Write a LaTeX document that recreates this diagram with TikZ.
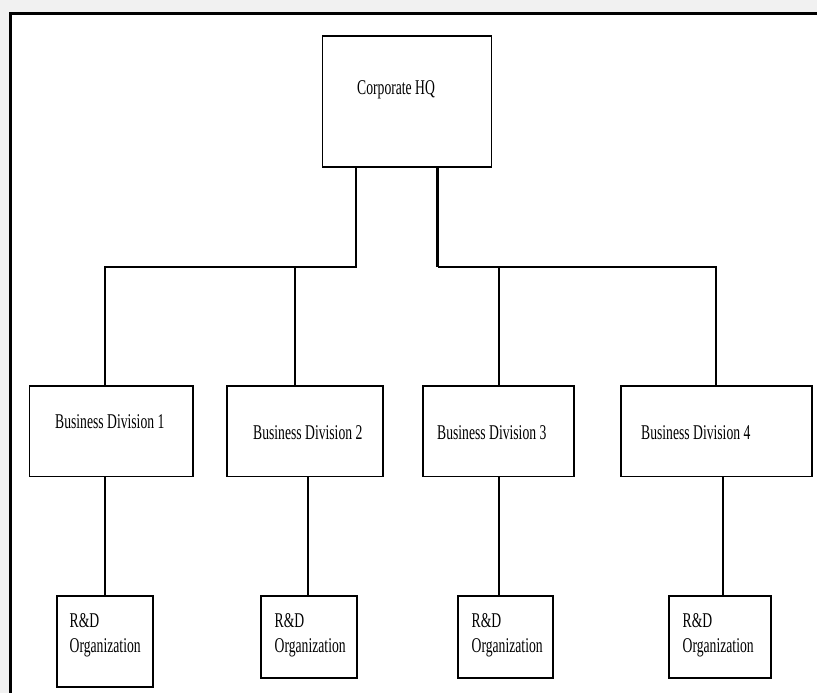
\documentclass[tikz,border=0pt]{standalone}
\usepackage{fontspec}
% Condensed Times-like face for all labels
\newfontfamily\orgfont[FakeStretch=0.65]{Liberation Serif}
\definecolor{pagebg}{HTML}{F1F1F1}
\begin{document}
\begin{tikzpicture}[x=1pt,y=-1pt,
  box/.style={draw=black, line width=1.9pt, fill=white, inner sep=0pt},
  lbl/.style={anchor=base west, inner sep=0pt, text=black, align=left,
              font=\orgfont\fontsize{21}{24.5}\selectfont},
  link/.style={line width=1.8pt},
  heavylink/.style={line width=2.6pt}
]
\useasboundingbox (0,0) rectangle (817,693);
% page background and framed sheet
\fill[pagebg] (0,0) rectangle (817,693);
\fill[white] (9,12) rectangle (817,693);
\draw[line width=3pt] (10.5,693) -- (10.5,13.5) -- (817,13.5);

% boxes
\node[box, minimum width=169pt, minimum height=130.5pt] (hq)  at (407,101.5) {};
\node[box, minimum width=163.5pt, minimum height=90.5pt] (bd1) at (111.25,431.2) {};
\node[box, minimum width=156.3pt, minimum height=90.5pt] (bd2) at (304.85,431.2) {};
\node[box, minimum width=150.7pt, minimum height=90.5pt] (bd3) at (498.65,431.2) {};
\node[box, minimum width=190.7pt, minimum height=90.5pt] (bd4) at (716.35,431.2) {};
\node[box, minimum width=95.4pt, minimum height=90.7pt] (rd1) at (105,641.35) {};
\node[box, minimum width=96pt,   minimum height=81.7pt] (rd2) at (308.7,636.85) {};
\node[box, minimum width=95pt,   minimum height=81.7pt] (rd3) at (505.8,636.85) {};
\node[box, minimum width=102pt,  minimum height=81.7pt] (rd4) at (720,636.85) {};

% labels (two-line labels are placed by the baseline of their last line)
\node[lbl] (thq) at (357,94.5) {Corporate HQ};
\node[lbl] (tb1) at (55,428) {Business Division 1};
\node[lbl] (tb2) at (253,439) {Business Division 2};
\node[lbl] (tb3) at (437,439) {Business Division 3};
\node[lbl] (tb4) at (641,439) {Business Division 4};
\node[lbl] (tr1) at (69.5,652) {R\&D\\Organization};
\node[lbl] (tr2) at (274.5,652) {R\&D\\Organization};
\node[lbl] (tr3) at (471.5,652) {R\&D\\Organization};
\node[lbl] (tr4) at (682.5,652) {R\&D\\Organization};

% bus points under the head office
\coordinate (busL) at (356,266.7);
\coordinate (busR) at (437.5,266.7);

% head office to divisions
\draw[link] (hq.south -| busL) -- (busL) -| ([xshift=-6.25pt]bd1.north);
\draw[link] (busL) -| ([xshift=-9.85pt]bd2.north);
\draw[heavylink] (hq.south -| busR) -- (busR);
\draw[link] (busR) -| ([xshift=-0.35pt]bd4.north);
\draw[link] (busR) -| ([xshift=0.35pt]bd3.north);

% divisions to R&D organizations
\path ([xshift=-6.25pt]bd1.south) coordinate (d1)
      ([xshift=3.15pt]bd2.south)  coordinate (d2)
      ([xshift=0.35pt]bd3.south)  coordinate (d3)
      ([xshift=6.65pt]bd4.south)  coordinate (d4);
\draw[link] (d1) -- (d1 |- rd1.north);
\draw[link] (d2) -- (d2 |- rd2.north);
\draw[heavylink] (d3) -- (d3 |- rd3.north);
\draw[heavylink] (d4) -- (d4 |- rd4.north);
\end{tikzpicture}
\end{document}
